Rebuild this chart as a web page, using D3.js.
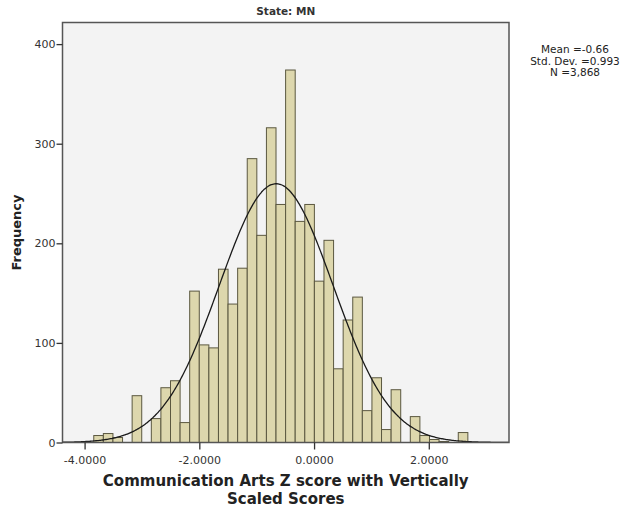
<!DOCTYPE html>
<html>
<head>
<meta charset="utf-8">
<script src="https://cdn.jsdelivr.net/npm/d3@7"></script>
<style>
  body { margin: 0; background: #fff; }
  text { font-family: "DejaVu Sans", Verdana, sans-serif; }
</style>
</head>
<body>
<div id="chart"></div>
<script>
// chart size
var width = 639;
var height = 510;

// histogram bins (lower edge of first bin, bin width) and counts
var binStart = -3.84;
var binWidth = 0.1672;
var counts = [7, 9, 5, 0, 47, 0, 24, 55, 62, 20,
  152, 98, 95, 174, 139, 175, 285, 208, 316, 239,
  374, 222, 239, 162, 203, 74, 123, 146, 32, 65,
  13, 53, 0, 26, 7, 3, 1, 0, 10];

// fitted normal curve stats
var mean = -0.66;
var sd = 0.993;
var n = 3868;

var xTicks = [-4, -2, 0, 2];
var yTicks = [0, 100, 200, 300, 400];
var statsText = ["Mean =-0.66", "Std. Dev. =0.993", "N =3,868"];

var margin = {top: 22.5, left: 62.5, right: 130, bottom: 67.5};
var plotW = 509 - 62.5;
var plotH = 442.5 - 22.5;

var x = d3.scaleLinear()
  .domain([-4.385, 3.398])
  .range([0, plotW]);

var y = d3.scaleLinear()
  .domain([0, 421.7])
  .range([plotH, 0]);

var svg = d3.select("#chart")
  .append("svg")
  .attr("width", width)
  .attr("height", height);

var g = svg.append("g")
  .attr("transform", "translate(" + margin.left + "," + margin.top + ")");

// plot background
g.append("rect")
  .attr("width", plotW)
  .attr("height", plotH)
  .style("fill", "#f3f3f3");

// bars
g.selectAll("rect.bar")
    .data(counts)
  .enter()
    .append("rect")
    .attr("class", "bar")
    .attr("x", function(d, i) { return x(binStart + i * binWidth); })
    .attr("width", function(d, i) { return x(binStart + (i + 1) * binWidth) - x(binStart + i * binWidth); })
    .attr("y", function(d) { return y(d); })
    .attr("height", function(d) { return plotH - y(d); })
    .style("fill", function(d) { return d > 0 ? "#ddd7ad" : "none"; })
    .style("stroke", function(d) { return d > 0 ? "#5b5840" : "none"; })
    .style("stroke-width", 1);

// normal curve
var curvePts = d3.range(0, 401).map(function(i) {
  var v = x.domain()[0] + (x.domain()[1] - x.domain()[0]) * i / 400;
  var f = n * binWidth / (sd * Math.sqrt(2 * Math.PI)) * Math.exp(-0.5 * Math.pow((v - mean) / sd, 2));
  return [v, f];
});
var line = d3.line()
  .x(function(d) { return x(d[0]); })
  .y(function(d) { return y(d[1]); })
  .curve(d3.curveBasis);
g.append("path")
  .datum(curvePts)
  .attr("d", line)
  .style("fill", "none")
  .style("stroke", "#1a1a1a")
  .style("stroke-width", 1.3);

// frame
g.append("rect")
  .attr("width", plotW)
  .attr("height", plotH)
  .style("fill", "none")
  .style("stroke", "#555")
  .style("stroke-width", 1.5);

// axes
var xAxis = g.append("g")
  .attr("transform", "translate(0," + plotH + ")")
  .call(d3.axisBottom(x).tickValues(xTicks).tickSize(7).tickSizeOuter(0)
    .tickFormat(function(d) { return d3.format(".4f")(d).replace("−", "-"); }));
xAxis.select(".domain").remove();
xAxis.selectAll("line").style("stroke", "#333").style("stroke-width", 1.3);
xAxis.selectAll("text").attr("dy", "0.71em").attr("y", 14)
  .style("font-size", "11px").style("fill", "#333");

var yAxis = g.append("g")
  .call(d3.axisLeft(y).tickValues(yTicks).tickSize(6).tickSizeOuter(0));
yAxis.select(".domain").remove();
yAxis.selectAll("line").style("stroke", "#333").style("stroke-width", 1.3);
yAxis.selectAll("text").attr("x", -7)
  .style("font-size", "11px").style("fill", "#333");

// title
svg.append("text")
  .attr("x", margin.left + plotW / 2)
  .attr("y", 15)
  .attr("text-anchor", "middle")
  .style("font-size", "10.5px")
  .style("font-weight", "bold")
  .style("fill", "#333")
  .text("State: MN");

// y axis label
svg.append("text")
  .attr("transform", "translate(21," + (margin.top + plotH / 2) + ") rotate(-90)")
  .attr("text-anchor", "middle")
  .style("font-size", "13px")
  .style("font-weight", "bold")
  .style("fill", "#222")
  .text("Frequency");

// x axis label
var xLabel = ["Communication Arts Z score with Vertically", "Scaled Scores"];
svg.selectAll("text.xlab")
    .data(xLabel)
  .enter()
    .append("text")
    .attr("class", "xlab")
    .attr("x", margin.left + plotW / 2)
    .attr("y", function(d, i) { return 486 + i * 18; })
    .attr("text-anchor", "middle")
    .style("font-size", "15px")
    .style("font-weight", "bold")
    .style("fill", "#222")
    .text(function(d) { return d; });

// stats
svg.selectAll("text.stat")
    .data(statsText)
  .enter()
    .append("text")
    .attr("class", "stat")
    .attr("x", 575)
    .attr("y", function(d, i) { return 53 + i * 11.5; })
    .attr("text-anchor", "middle")
    .style("font-size", "10.5px")
    .style("fill", "#222")
    .text(function(d) { return d; });
</script>
</body>
</html>
